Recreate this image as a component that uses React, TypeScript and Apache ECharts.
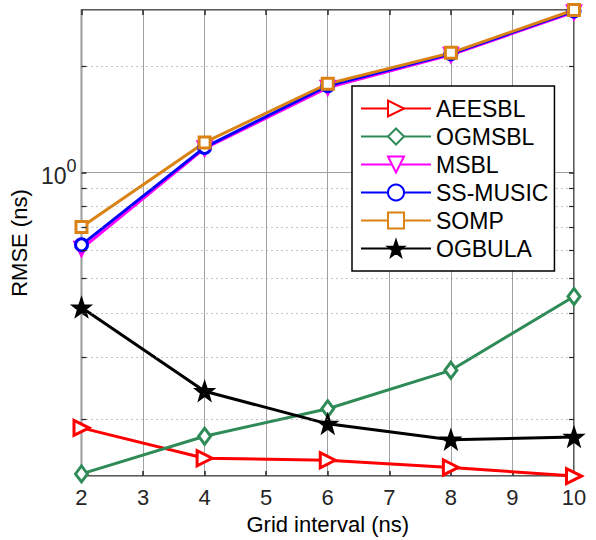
import React, { useEffect, useRef } from "react";
import * as echarts from "echarts";

const xValues = [2, 4, 6, 8, 10];
const aeesbl = [0.189, 0.155, 0.153, 0.146, 0.138];
const ogmsbl = [0.14, 0.179, 0.214, 0.275, 0.445];
const msbl = [0.607, 1.169, 1.736, 2.15, 2.84];
const ssMusic = [0.623, 1.176, 1.758, 2.164, 2.86];
const somp = [0.7, 1.215, 1.781, 2.178, 2.88];
const ogbula = [0.414, 0.24, 0.194, 0.175, 0.178];
const yMin = 0.138;
const yMax = 2.88;
const xMin = 2;
const xMax = 10;
const minorGrid = [0.2, 0.3, 0.4, 0.5, 0.6, 0.7, 0.8, 0.9, 2];
const seriesNames = ["AEESBL", "OGMSBL", "MSBL", "SS-MUSIC", "SOMP", "OGBULA"];

const FONT = "Liberation Sans, Arial, Helvetica, sans-serif";
const STAR =
  "path://M0,-10 L2.35,-3.24 L9.51,-3.09 L3.8,1.24 L5.88,8.09 L0,4 L-5.88,8.09 L-3.8,1.24 L-9.51,-3.09 L-2.35,-3.24 Z";

function mk(name: string, vals: number[], color: string, symbol: string, size: any, rotate = 0, filled = false) {
  return {
    name,
    type: "line",
    data: xValues.map((x, i) => [x, vals[i]]),
    clip: false,
    symbol,
    symbolSize: size,
    symbolRotate: rotate,
    showAllSymbol: true,
    lineStyle: { color, width: 3 },
    itemStyle: { color: filled ? color : "#fff", borderColor: color, borderWidth: 3 },
    z: 3,
  };
}

export default function App() {
  const ref = useRef<HTMLDivElement>(null);
  useEffect(() => {
    const chart = echarts.init(ref.current!, null, { renderer: "svg" });
    const tickStyle = { show: true, inside: true, length: 5, lineStyle: { color: "#262626", width: 1.5 } };
    const tickLen = 0.08;
    const minorTickLines: any[] = [];
    minorGrid.forEach((v) => {
      minorTickLines.push([{ coord: [xMin, v] }, { coord: [xMin + tickLen, v] }]);
      minorTickLines.push([{ coord: [xMax - tickLen, v] }, { coord: [xMax, v] }]);
    });
    chart.setOption({
      animation: false,
      backgroundColor: "#fff",
      grid: {
        left: 76,
        right: 22,
        top: 10,
        bottom: 62,
        show: true,
        borderColor: "#262626",
        borderWidth: 1.5,
        backgroundColor: "transparent",
      },
      legend: {
        orient: "vertical",
        left: 352,
        top: 86,
        padding: [11, 6, 11, 8],
        itemGap: 5,
        itemWidth: 70,
        itemHeight: 20,
        borderColor: "#000",
        borderWidth: 1.5,
        backgroundColor: "#fff",
        textStyle: { fontSize: 23, color: "#000", fontFamily: FONT },
        data: seriesNames,
        z: 10,
      },
      xAxis: [
        {
          type: "value",
          min: xMin,
          max: xMax,
          interval: 1,
          name: "Grid interval (ns)",
          nameLocation: "middle",
          nameGap: 36,
          nameTextStyle: { fontSize: 22, color: "#000", fontFamily: FONT },
          axisLine: { show: false },
          axisTick: tickStyle,
          axisLabel: { fontSize: 22, color: "#262626", fontFamily: FONT, margin: 10 },
          splitLine: { show: true, lineStyle: { color: "#a0a0a0", width: 1 } },
        },
        {
          type: "value",
          position: "top",
          min: xMin,
          max: xMax,
          interval: 1,
          axisLine: { show: false },
          axisTick: tickStyle,
          axisLabel: { show: false },
          splitLine: { show: false },
        },
      ],
      yAxis: [
        {
          type: "log",
          logBase: 10,
          min: yMin,
          max: yMax,
          name: "RMSE (ns)",
          nameLocation: "middle",
          nameGap: 44,
          nameTextStyle: { fontSize: 22, color: "#000", fontFamily: FONT },
          axisLine: { show: false },
          axisTick: tickStyle,
          axisLabel: {
            showMinLabel: false,
            showMaxLabel: false,
            margin: 5,
            fontFamily: FONT,
            color: "#262626",
            formatter: (v: number) => (Math.abs(v - 1) < 1e-6 ? "{b|10}{s|0}" : ""),
            rich: {
              b: { fontSize: 23, fontFamily: FONT, color: "#262626", verticalAlign: "bottom" },
              s: { fontSize: 18, fontFamily: FONT, color: "#262626", verticalAlign: "top", padding: [0, 0, 12, 0] },
            },
          },
          splitLine: { show: true, lineStyle: { color: "#a0a0a0", width: 1 } },
        },
        {
          type: "log",
          logBase: 10,
          position: "right",
          min: yMin,
          max: yMax,
          axisLine: { show: false },
          axisTick: tickStyle,
          axisLabel: { show: false },
          splitLine: { show: false },
        },
      ],
      series: [
        {
          name: "minor-grid",
          type: "line",
          data: [],
          z: 1,
          markLine: {
            silent: true,
            symbol: "none",
            label: { show: false },
            lineStyle: { color: "#8c8c8c", width: 1, type: [1, 4] },
            data: minorGrid.map((v) => ({ yAxis: v })),
          },
        },
        {
          name: "minor-ticks",
          type: "line",
          data: [],
          z: 2,
          markLine: {
            silent: true,
            symbol: "none",
            label: { show: false },
            lineStyle: { color: "#262626", width: 1.2, type: "solid" },
            data: minorTickLines,
          },
        },
        mk("AEESBL", aeesbl, "#ff0000", "triangle", 15, -90),
        mk("OGMSBL", ogmsbl, "#2e8b57", "diamond", [12, 16]),
        mk("MSBL", msbl, "#ff00ff", "triangle", 13, 180),
        mk("SS-MUSIC", ssMusic, "#0000ff", "circle", 12),
        mk("SOMP", somp, "#da8213", "rect", 11),
        mk("OGBULA", ogbula, "#000000", STAR, 15, 0, true),
      ],
    });
    return () => chart.dispose();
  }, []);
  return (
    <div
      ref={ref}
      style={{ position: "fixed", left: 0, top: 0, width: 596, height: 540, background: "#fff" }}
    />
  );
}
